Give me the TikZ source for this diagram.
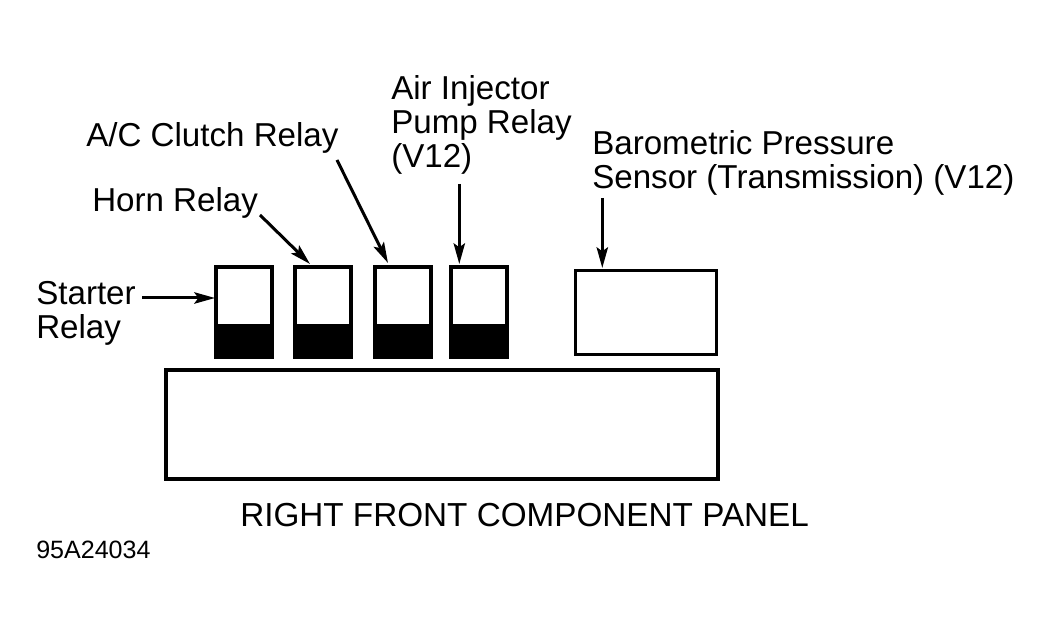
\documentclass[tikz,border=0pt]{standalone}
\usepackage{fontspec}
\setmainfont{Liberation Sans}
\usetikzlibrary{arrows.meta}
\tikzset{
 lab/.style={inner sep=0pt,anchor=base west,font=\fontsize{24.85}{24.85}\selectfont,align=left},
 box/.style={draw=black,line width=3pt,fill=white,inner sep=0pt,outer sep=0pt,anchor=south west},
 relay/.style={box,minimum width=42pt,minimum height=67.5pt},
 dark/.style={box,fill=black,minimum width=42pt,minimum height=23.25pt},
 arr/.style={draw=black,line width=2.25pt,-{Stealth[length=15.5pt,width=8.5pt,inset=3pt]}}
}
\begin{document}
\begin{tikzpicture}[x=0.75pt,y=-0.75pt]
\useasboundingbox (0,0) rectangle (1047,634);
\fill[white] (0,0) rectangle (1047,634);
% relays
\node[relay] (r1) at (216,357) {};
\node[relay] (r2) at (295,357) {};
\node[relay] (r3) at (375,357) {};
\node[relay] (r4) at (451,357) {};
\node[dark] (d1) at (216,357) {};
\node[dark] (d2) at (295,357) {};
\node[dark] (d3) at (375,357) {};
\node[dark] (d4) at (451,357) {};
\node[box,line width=2.25pt,minimum width=105.75pt,minimum height=63pt] (baro) at (575.5,354.5) {};
\node[box,minimum width=414pt,minimum height=81.75pt] (panel) at (166,479) {};
% labels
\node[lab] (starter) at (36,305) {Starter};
\node[lab] (relay) at (36,339) {Relay};
\node[lab] (horn) at (92,212) {Horn Relay};
\node[lab] (ac) at (86,147) {A/C Clutch Relay};
\node[lab] (air) at (391,100) {Air Injector};
\node[lab] (pump) at (391,134) {Pump Relay};
\node[lab] (v12) at (391,168) {(V12)};
\node[lab] (b1) at (592,155) {Barometric Pressure};
\node[lab] (b2) at (592,189) {Sensor (Transmission) (V12)};
\node[lab,font=\fontsize{24.95}{24.95}\selectfont] (title) at (240,527) {RIGHT FRONT COMPONENT PANEL};
\node[inner sep=0pt,anchor=base west,font=\fontsize{18.8}{18.8}\selectfont] (code) at (36,559) {95A24034};
% connectors
\coordinate (a1s) at (142,298); \coordinate (a1e) at (215,298);
\coordinate (a2s) at (260,215); \coordinate (a2e) at (310,264);
\coordinate (a3s) at (337,160); \coordinate (a3e) at (388,263);
\coordinate (a4s) at (459.3,184); \coordinate (a4e) at (459.3,264);
\coordinate (a5s) at (602.3,198); \coordinate (a5e) at (602.3,268);
\draw[arr] (a1s) -- (a1e);
\draw[arr] (a2s) -- (a2e);
\draw[arr] (a3s) -- (a3e);
\draw[arr] (a4s) -- (a4e);
\draw[arr] (a5s) -- (a5e);
\end{tikzpicture}
\end{document}
